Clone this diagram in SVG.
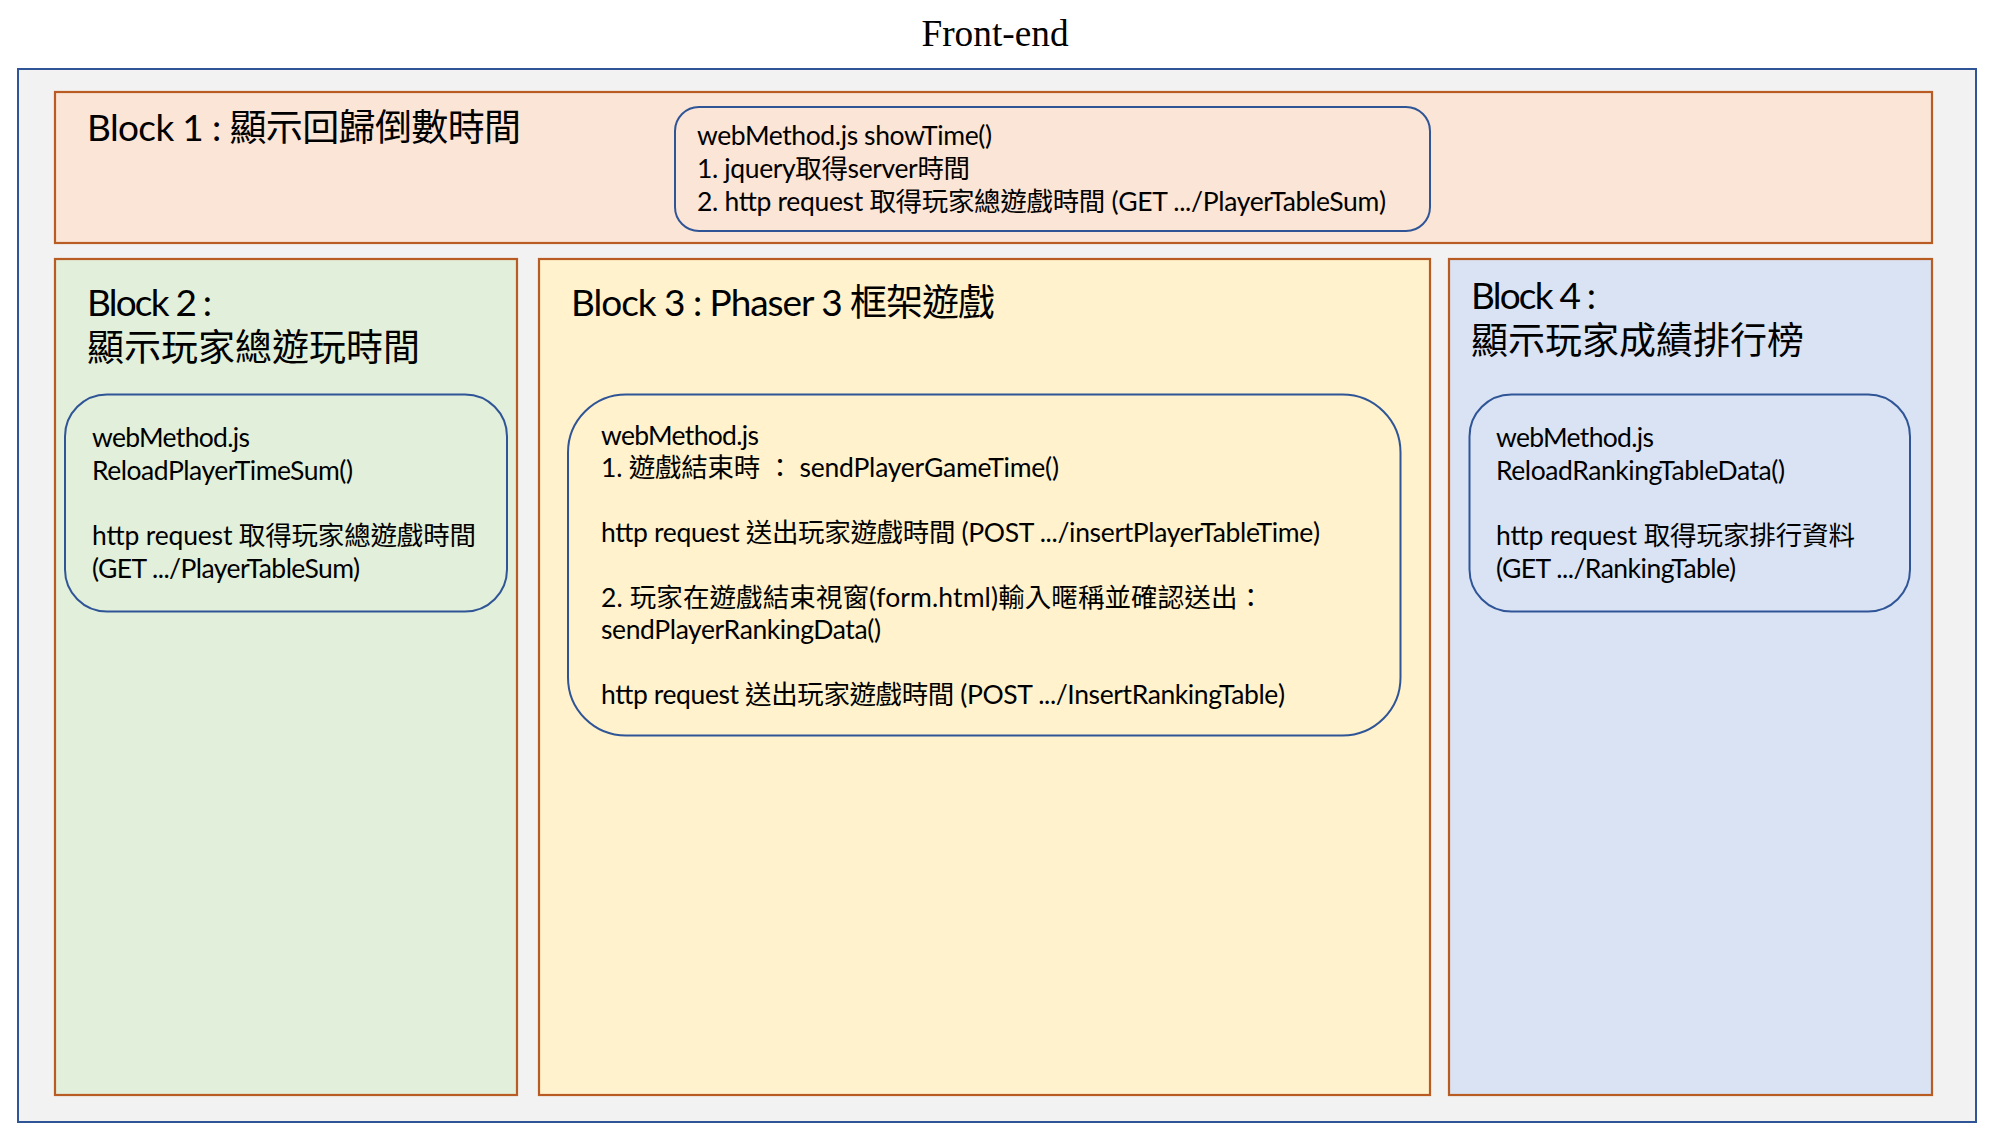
<svg xmlns="http://www.w3.org/2000/svg" width="2002" height="1130" viewBox="0 0 2002 1130">
<style>
.frame{fill:#F2F2F2;stroke:#2F5597;stroke-width:2}
.block{stroke:#B85C23;stroke-width:2.2}
.b1{fill:#FBE5D6}.b2{fill:#E2EFDA}.b3{fill:#FFF2CC}.b4{fill:#DAE3F3}
.box{fill:none;stroke:#2F5597;stroke-width:2}
.title{font-family:"Liberation Serif","Times New Roman",serif;font-size:37.3px;fill:#000}
.h{font-family:Lato,"Noto Sans CJK TC",sans-serif;font-size:37px;fill:#000}
.t{font-family:Lato,"Noto Sans CJK TC",sans-serif;font-size:26.5px;fill:#000}
</style>
<rect width="2002" height="1130" fill="#FFFFFF"/>
<text class="title" x="995" y="46" text-anchor="middle">Front-end</text>
<g id="frontend">
<rect class="frame" x="18" y="69" width="1958" height="1053"/>
</g>
<g id="block1">
<rect class="block b1" x="55" y="92" width="1877" height="151"/>
<text class="h" x="87" y="141" textLength="434">Block 1 : 顯示回歸倒數時間</text>
</g>
<g id="block2">
<rect class="block b2" x="55" y="259" width="462" height="836"/>
<text class="h" x="87" y="316" textLength="125">Block 2 :</text>
<text class="h" x="87" y="361">顯示玩家總遊玩時間</text>
</g>
<g id="block3">
<rect class="block b3" x="539" y="259" width="891" height="836"/>
<text class="h" x="571" y="316" textLength="424">Block 3 : Phaser 3 框架遊戲</text>
</g>
<g id="block4">
<rect class="block b4" x="1449" y="259" width="483" height="836"/>
<text class="h" x="1471" y="309" textLength="125">Block 4 :</text>
<text class="h" x="1471" y="354">顯示玩家成績排行榜</text>
</g>
<g id="showTime">
<rect class="box" x="675" y="107" width="755" height="124" rx="24"/>
<text class="t" x="697" y="145" textLength="295">webMethod.js showTime()</text>
<text class="t" x="697" y="178" textLength="273">1. jquery取得server時間</text>
<text class="t" x="697" y="210.5" textLength="689">2. http request 取得玩家總遊戲時間 (GET .../PlayerTableSum)</text>
</g>
<g id="reloadPlayerTimeSum">
<rect class="box" x="65" y="394.5" width="442" height="217" rx="42"/>
<text class="t" x="92" y="447" textLength="158">webMethod.js</text>
<text class="t" x="92" y="480" textLength="261">ReloadPlayerTimeSum()</text>
<text class="t" x="92" y="545" textLength="384">http request 取得玩家總遊戲時間</text>
<text class="t" x="92" y="578" textLength="268">(GET .../PlayerTableSum)</text>
</g>
<g id="gameMethods">
<rect class="box" x="568" y="394.5" width="832.5" height="341" rx="58"/>
<text class="t" x="601" y="445" textLength="158">webMethod.js</text>
<text class="t" x="601" y="477.4" textLength="458">1. 遊戲結束時 ： sendPlayerGameTime()</text>
<text class="t" x="601" y="542.2" textLength="719">http request 送出玩家遊戲時間 (POST .../insertPlayerTableTime)</text>
<text class="t" x="601" y="607" textLength="663">2. 玩家在遊戲結束視窗(form.html)輸入暱稱並確認送出：</text>
<text class="t" x="601" y="639.4" textLength="280">sendPlayerRankingData()</text>
<text class="t" x="601" y="704.2" textLength="684">http request 送出玩家遊戲時間 (POST .../InsertRankingTable)</text>
</g>
<g id="reloadRankingTableData">
<rect class="box" x="1469.5" y="394.5" width="440.5" height="217" rx="42"/>
<text class="t" x="1496" y="447" textLength="158">webMethod.js</text>
<text class="t" x="1496" y="480" textLength="289">ReloadRankingTableData()</text>
<text class="t" x="1496" y="545" textLength="359">http request 取得玩家排行資料</text>
<text class="t" x="1496" y="578" textLength="240">(GET .../RankingTable)</text>
</g>
<g id="connectors"/>
</svg>
